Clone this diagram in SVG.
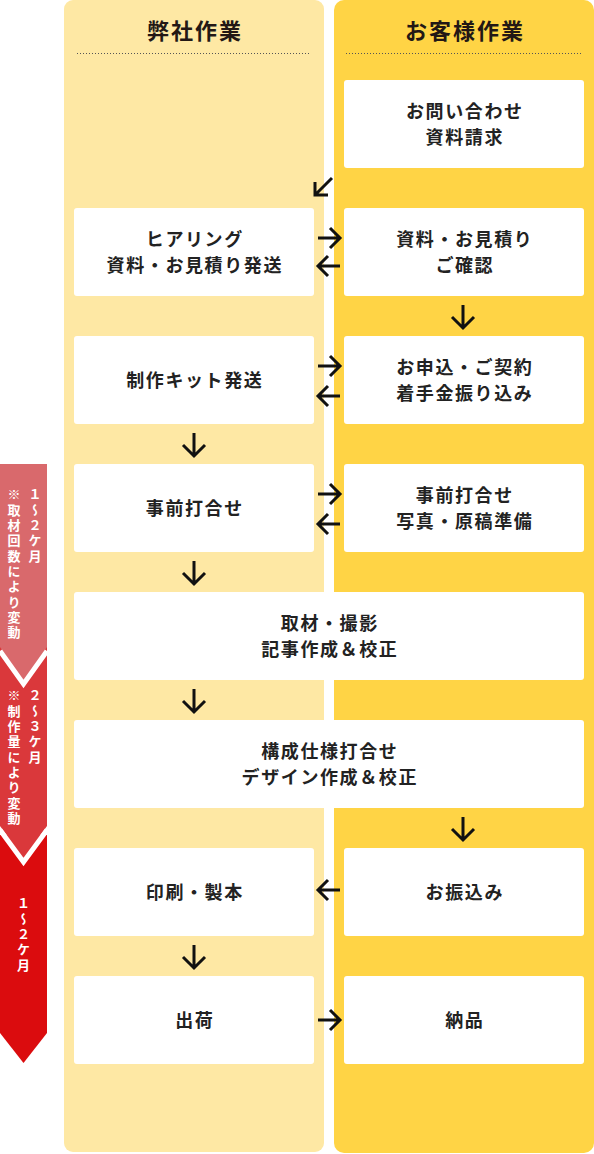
<svg xmlns="http://www.w3.org/2000/svg" width="594" height="1154" viewBox="0 0 594 1154">
<style>
.lt{font-family:"Noto Sans CJK JP","Noto Sans",sans-serif;font-weight:bold;font-size:18px;fill:#222;text-anchor:middle;letter-spacing:1.6px}
.hd{font-family:"Noto Sans CJK JP","Noto Sans",sans-serif;font-weight:bold;font-size:22px;fill:#231815;text-anchor:middle;letter-spacing:2px}
.bx{fill:#fff}
.dot{stroke:#555;stroke-width:1;stroke-dasharray:1 2;fill:none}
.ar{stroke:#111;stroke-width:3;fill:none}
.vt{font-family:"Noto Sans CJK JP","Noto Sans",sans-serif;font-weight:bold;font-size:13px;fill:#fff;writing-mode:vertical-rl;text-orientation:upright;letter-spacing:2.3px}
</style>
<g id="columns">
<rect x="64" y="0" width="260" height="1152" rx="9" fill="#FEE8A4"/>
<rect x="334" y="0" width="260" height="1153" rx="10" fill="#FFD445"/>
<text class="hd" x="195" y="39">弊社作業</text>
<text class="hd" x="465" y="39">お客様作業</text>
<line class="dot" x1="77" y1="53.5" x2="311" y2="53.5"/>
<line class="dot" x1="346" y1="53.5" x2="582" y2="53.5"/>
</g>
<g id="banner">
<polygon points="0,835 47,835 47,1033 23.5,1063 0,1033" fill="#DB0C0E"/>
<polygon points="0,645 47,645 47,826 23.5,858 0,826" fill="#DA383B"/>
<polyline points="0,830 23.5,862 47,830" fill="none" stroke="#fff" stroke-width="5"/>
<polygon points="0,464 47,464 47,647 23.5,680 0,647" fill="#D9696C"/>
<polyline points="0,651 23.5,684 47,651" fill="none" stroke="#fff" stroke-width="5"/>
<text class="vt" x="35" y="488">１～２ケ月</text>
<text class="vt" x="14" y="488">※取材回数により変動</text>
<text class="vt" x="35" y="689">２～３ケ月</text>
<text class="vt" x="14" y="689">※制作量により変動</text>
<text class="vt" x="23.5" y="897">１～２ケ月</text>
</g>
<g id="n1"><rect class="bx" x="344" y="80" width="240" height="88" rx="3"/><text class="lt" x="464.8" y="117.5">お問い合わせ</text><text class="lt" x="464.8" y="143.5">資料請求</text></g>
<g id="n2"><rect class="bx" x="74" y="208" width="240" height="88" rx="3"/><text class="lt" x="194.8" y="245.5">ヒアリング</text><text class="lt" x="194.8" y="271.5">資料・お見積り発送</text></g>
<g id="n3"><rect class="bx" x="344" y="208" width="240" height="88" rx="3"/><text class="lt" x="464.8" y="245.5">資料・お見積り</text><text class="lt" x="464.8" y="271.5">ご確認</text></g>
<g id="n4"><rect class="bx" x="74" y="336" width="240" height="88" rx="3"/><text class="lt" x="194.8" y="386.5">制作キット発送</text></g>
<g id="n5"><rect class="bx" x="344" y="336" width="240" height="88" rx="3"/><text class="lt" x="464.8" y="373.5">お申込・ご契約</text><text class="lt" x="464.8" y="399.5">着手金振り込み</text></g>
<g id="n6"><rect class="bx" x="74" y="464" width="240" height="88" rx="3"/><text class="lt" x="194.8" y="514.5">事前打合せ</text></g>
<g id="n7"><rect class="bx" x="344" y="464" width="240" height="88" rx="3"/><text class="lt" x="464.8" y="501.5">事前打合せ</text><text class="lt" x="464.8" y="527.5">写真・原稿準備</text></g>
<g id="n8"><rect class="bx" x="74" y="592" width="510" height="88" rx="3"/><text class="lt" x="329.8" y="629.5">取材・撮影</text><text class="lt" x="329.8" y="655.5">記事作成＆校正</text></g>
<g id="n9"><rect class="bx" x="74" y="720" width="510" height="88" rx="3"/><text class="lt" x="329.8" y="757.5">構成仕様打合せ</text><text class="lt" x="329.8" y="783.5">デザイン作成＆校正</text></g>
<g id="n10"><rect class="bx" x="74" y="848" width="240" height="88" rx="3"/><text class="lt" x="194.8" y="898.5">印刷・製本</text></g>
<g id="n11"><rect class="bx" x="344" y="848" width="240" height="88" rx="3"/><text class="lt" x="464.8" y="898.5">お振込み</text></g>
<g id="n12"><rect class="bx" x="74" y="976" width="240" height="88" rx="3"/><text class="lt" x="194.8" y="1026.5">出荷</text></g>
<g id="n13"><rect class="bx" x="344" y="976" width="240" height="88" rx="3"/><text class="lt" x="464.8" y="1026.5">納品</text></g>
<g id="connectors" class="ar">
<path d="M332,178 L315,195 M315,182 L315,195 L328,195"/>
<path d="M318,238 H340 M330,228 L340,238 L330,248"/>
<path d="M340,266 H318 M328,256 L318,266 L328,276"/>
<path d="M463,305 V328 M452,317 L463,328 L474,317"/>
<path d="M318,366 H340 M330,356 L340,366 L330,376"/>
<path d="M340,396 H318 M328,386 L318,396 L328,406"/>
<path d="M194,433 V456 M183,445 L194,456 L205,445"/>
<path d="M318,494 H340 M330,484 L340,494 L330,504"/>
<path d="M340,524 H318 M328,514 L318,524 L328,534"/>
<path d="M194,561 V584 M183,573 L194,584 L205,573"/>
<path d="M194,689 V712 M183,701 L194,712 L205,701"/>
<path d="M463,817 V840 M452,829 L463,840 L474,829"/>
<path d="M340,890 H318 M328,880 L318,890 L328,900"/>
<path d="M194,945 V968 M183,957 L194,968 L205,957"/>
<path d="M318,1020 H340 M330,1010 L340,1020 L330,1030"/>
</g>
</svg>
